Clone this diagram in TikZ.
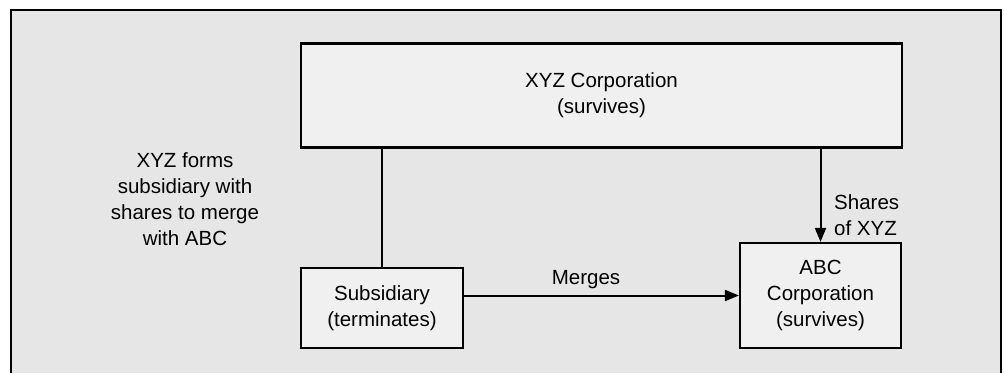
\documentclass[tikz,border=0pt]{standalone}
\usepackage{fontspec}
\setmainfont{Liberation Sans}
\usetikzlibrary{shapes,arrows.meta,positioning}
\definecolor{panelgray}{HTML}{E6E6E6}
\definecolor{boxgray}{HTML}{F0F0F0}
\begin{document}
\begin{tikzpicture}[x=1pt,y=-1pt,
    company/.style={draw=black, line width=2.2pt, fill=boxgray, inner sep=0pt,
      align=center, font=\fontsize{20.5}{26}\selectfont},
    txt/.style={inner sep=0pt, font=\fontsize{20.5}{26}\selectfont},
    link/.style={line width=2pt},
    flow/.style={line width=2pt, -{Triangle[length=14pt,width=11pt]}}]
  \useasboundingbox (0,0) rectangle (1004,373);
  %% Bakgrunn og ramme
  \fill[panelgray] (11,10) rectangle (1001,373);
  \draw[line width=1.8pt, black] (11,373) -- (11,10) -- (1001,10) -- (1001,373);

  %% Boksene
  \node[company, minimum width=601pt, minimum height=104pt] (xyz) at (601.5,95.5)
    {XYZ Corporation\\(survives)};
  \node[company, minimum width=162pt, minimum height=80pt] (sub) at (382,308)
    {Subsidiary\\(terminates)};
  \node[company, minimum width=161pt, minimum height=105pt] (abc) at (820.5,295.5)
    {ABC\\Corporation\\(survives)};

  %% Tekst til venstre
  \node[txt, align=center] (note) at (185,199)
    {XYZ forms\\subsidiary with\\shares to merge\\with ABC};

  %% Forbindelser
  \draw[link] (sub.north) -- (sub.north |- xyz.south);
  \draw[flow] (abc.north |- xyz.south) -- (abc.north);
  \draw[flow] (sub.east |- abc.west) -- (abc.west);

  %% Etiketter
  \node[txt] (merges) at (586,280) {Merges};
  \node[txt, align=left, anchor=west] (shares) at (834,215) {Shares\\of XYZ};
\end{tikzpicture}
\end{document}
